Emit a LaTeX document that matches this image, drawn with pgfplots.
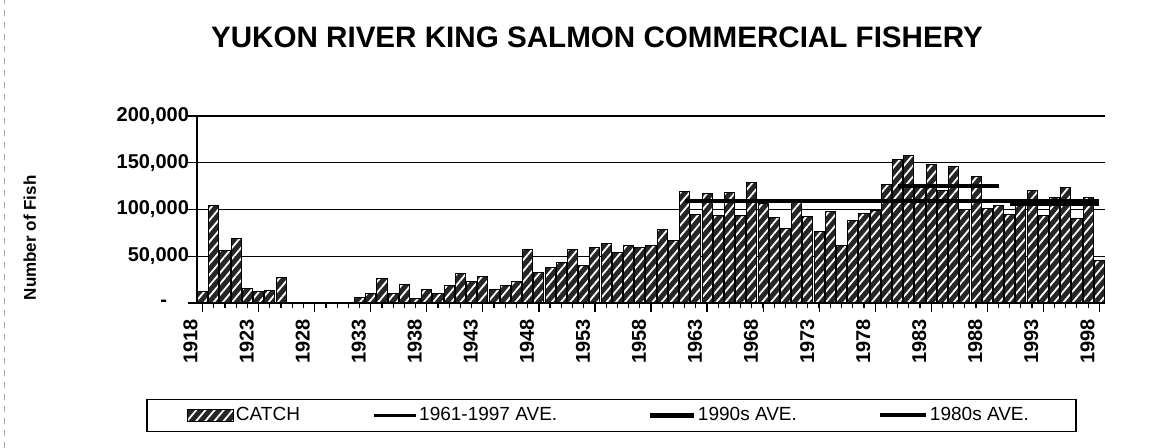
\documentclass[border=0pt]{standalone}
\usepackage{fontspec}
\setmainfont{Liberation Sans}
\usepackage{pgfplots}
\pgfplotsset{compat=1.18}
\usetikzlibrary{patterns.meta}

\pgfplotsset{
  barimg/.style={legend image code/.code={\draw[##1] (0pt,-3pt) rectangle (23pt,3pt);}},
  lineimg/.style={legend image code/.code={\draw[##1] (0pt,0pt) -- (#1,0pt);}},
}

\begin{document}
\begin{tikzpicture}
\useasboundingbox (-98.5pt,-72.5pt) rectangle (484.5pt,151.5pt);
\draw[gray!70, dashed, line width=0.4pt] (-96.5pt,-72.5pt) -- (-96.5pt,151.5pt);
\begin{axis}[
  width=454pt, height=93.5pt, scale only axis,
  xmin=1917.5, xmax=1998.5, ymin=0, ymax=200000,
  enlargelimits=false,
  axis x line=bottom, axis y line=left,
  axis line style={-},
  x axis line style={line width=1.2pt},
  y axis line style={line width=0.6pt},
  ymajorgrids, grid style={black, line width=0.6pt},
  tick align=outside, major tick length=4.5pt, minor tick length=2.5pt,
  tick style={black, line width=0.6pt},
  xtick={1918,1923,...,1998}, minor xtick={1918,...,1998},
  xticklabels={1918,1923,1928,1933,1938,1943,1948,1953,1958,1963,1968,1973,1978,1983,1988,1993,1998},
  xticklabel style={xshift=-6pt, rotate=90, anchor=east,
    font=\fontsize{10}{11}\selectfont\bfseries},
  ytick={0,50000,100000,150000,200000},
  yticklabels={{-\rule{11pt}{0pt}},{50,000},{100,000},{150,000},{200,000}},
  yticklabel style={xshift=4pt, font=\fontsize{10}{12}\selectfont\bfseries},
  scaled y ticks=false,
  ylabel={Number of Fish},
  ylabel style={font=\fontsize{8.5}{10}\selectfont\bfseries,
    at={(axis description cs:-0.184,0.348)}, anchor=center},
  title={YUKON RIVER KING SALMON COMMERCIAL FISHERY},
  title style={at={(axis description cs:0.4405,1)}, anchor=center, yshift=33.5pt,
    font=\fontsize{14.8}{17}\selectfont\bfseries},
  legend columns=4,
  legend style={at={(axis description cs:0.4565,-0.6016)}, anchor=center,
    draw=black, line width=0.6pt, font=\fontsize{9.5}{11}\selectfont,
    inner xsep=20pt, inner ysep=3pt, column sep=0pt,
    nodes={inner sep=1pt}},
]
% catch
\addplot[ybar, bar width=0.9, draw=black, line width=0.5pt, fill=black!85,
  postaction={pattern={Lines[angle=50,distance=3.5pt,line width=0.9pt]}, pattern color=white},
  barimg]
coordinates {
(1918,12000) (1919,104000) (1920,56000) (1921,69000) (1922,15000) (1923,12000)
(1924,13000) (1925,27000)
(1932,6000) (1933,10000) (1934,26000) (1935,10000) (1936,20000) (1937,5000)
(1938,14000) (1939,10000) (1940,19000) (1941,32000) (1942,23000) (1943,28000)
(1944,14000) (1945,19000) (1946,23000) (1947,57000) (1948,33000) (1949,38000)
(1950,43000) (1951,57000) (1952,40000) (1953,59000) (1954,64000) (1955,54000)
(1956,62000) (1957,59000) (1958,62000) (1959,79000) (1960,67000)
(1961,119000) (1962,95000) (1963,117000) (1964,94000) (1965,118000) (1966,94000)
(1967,129000) (1968,106000) (1969,91000) (1970,80000) (1971,108000) (1972,92000)
(1973,76000) (1974,98000) (1975,62000) (1976,88000) (1977,96000) (1978,99000)
(1979,127000) (1980,154000) (1981,158000) (1982,124000) (1983,148000) (1984,120000)
(1985,146000) (1986,100000) (1987,135000) (1988,101000) (1989,104000) (1990,95000)
(1991,105000) (1992,120000) (1993,94000) (1994,113000) (1995,123000) (1996,90000)
(1997,113000) (1998,45000)
};
\addlegendentry{\makebox[67pt][l]{CATCH}}
% averages
\addplot[black, line width=1.6pt, mark=none, lineimg=21pt]
coordinates {(1961,109000) (1998,109000)};
\addlegendentry{\makebox[113pt][l]{1961-1997 AVE.}}
\addplot[black, line width=2.4pt, mark=none, lineimg=22pt]
coordinates {(1990,106000) (1998,106000)};
\addlegendentry{\makebox[89pt][l]{1990s AVE.}}
\addplot[black, line width=2.0pt, mark=none, lineimg=23pt]
coordinates {(1980,125000) (1989,125000)};
\addlegendentry{\makebox[52pt][l]{1980s AVE.}}
\end{axis}
\end{tikzpicture}
\end{document}
